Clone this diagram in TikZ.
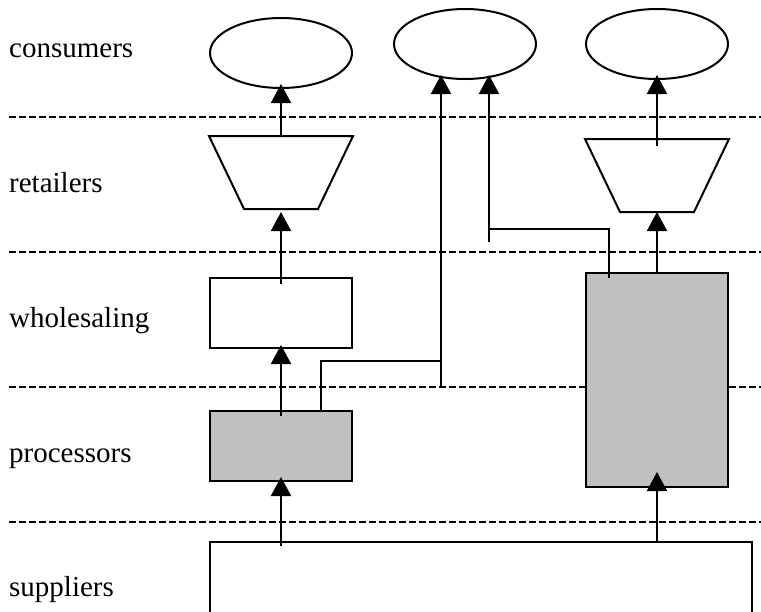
\documentclass[tikz,border=0pt]{standalone}
\usepackage{fontspec}
\setmainfont{Liberation Serif}
\usetikzlibrary{positioning,shapes.geometric,arrows.meta}
\definecolor{stagegray}{HTML}{C0C0C0}
\tikzset{stage box/.style={rectangle,draw,line width=2pt,minimum width=142pt,minimum height=70pt,inner sep=0pt},
         market node/.style={ellipse,draw,line width=2pt,minimum width=142pt,minimum height=70pt,inner sep=0pt},
         shop node/.style={rectangle,line width=2pt,minimum width=142pt,minimum height=71pt,inner sep=0pt},
         layer label/.style={anchor=base west,inner sep=0pt,font=\fontsize{29}{35}\selectfont},
         layer line/.style={line width=2pt,dash pattern=on 7pt off 3pt},
         flow/.style={line width=2pt,-{Triangle[width=20pt,length=19pt]}},
         link/.style={line width=2pt},
            }

\begin{document}
\begin{tikzpicture}[x=1pt,y=-1pt]
    \useasboundingbox (0,0) rectangle (761,611);
    \clip (0,0) rectangle (761,611);

    % layers
    \node[layer label] (L1) at (9,57) {consumers};
    \node[layer label] (L2) at (9,192) {retailers};
    \node[layer label] (L3) at (9,327) {wholesaling};
    \node[layer label] (L4) at (9,462) {processors};
    \node[layer label] (L5) at (9,596) {suppliers};
    \foreach \y in {117,252,387,522}
        \draw[layer line] (9,\y) -- (761,\y);

    \node[market node] (c1) at (281,53) {};
    \node[market node] (c2) at (465,44) {};
    \node[market node] (c3) at (657,44) {};
    \node[shop node] (r1) [below = 47pt of c1] {};
    \node[stage box] (w1) [below = 68pt of r1] {};
    \node[stage box,fill=stagegray] (p1) [below = 61pt of w1] {};
    \node[shop node] (r2) [below = 59pt of c3] {};
    \node[stage box,fill=stagegray,minimum height=214pt] (p2) [below = 60pt of r2] {};
    \node[stage box,minimum width=542pt,minimum height=120pt,anchor=north west] (s) at (209,541) {};

    % retailers narrow towards the bottom
    \foreach \r in {r1,r2}
        \draw[link,line join=miter] (\r.north west) -- (\r.north east)
            -- ([xshift=-35pt]\r.south east) -- ([xshift=35pt]\r.south west) -- cycle;

    \coordinate (j1) at (441,361);
    \coordinate (j1end) at (441,387);
    \coordinate (j2) at (489,229);
    \coordinate (j2end) at (489,242);

    \path[draw,line width=2pt]
    (r1.north) edge[flow,shorten >=-5pt] (c1.south)
    ([yshift=-7pt]w1.north) edge[flow,shorten >=3pt] (r1.south)
    ([yshift=-6pt]p1.north) edge[flow,shorten >=-4pt] (w1.south)
    ([yshift=-5pt]s.north -| p1.south) edge[flow,shorten >=-5pt] (p1.south)
    ([yshift=-7pt]r2.north) edge[flow,shorten >=-5pt] (c3.south)
    (p2.north) edge[flow] (r2.south)
    (s.north -| p2.south) edge[flow,shorten >=-16pt] (p2.south);
    %% side routes to the middle consumers
    \draw[flow,shorten >=-5pt] ([xshift=40pt]p1.north) |- (j1) -- (j1 |- c2.south);
    \draw[link] (j1end) -- (j1);
    \draw[flow,shorten >=-5pt] ([xshift=-48pt,yshift=-6pt]p2.north) |- (j2) -- (j2 |- c2.south);
    \draw[link] (j2end) -- (j2);

\end{tikzpicture}
\end{document}
